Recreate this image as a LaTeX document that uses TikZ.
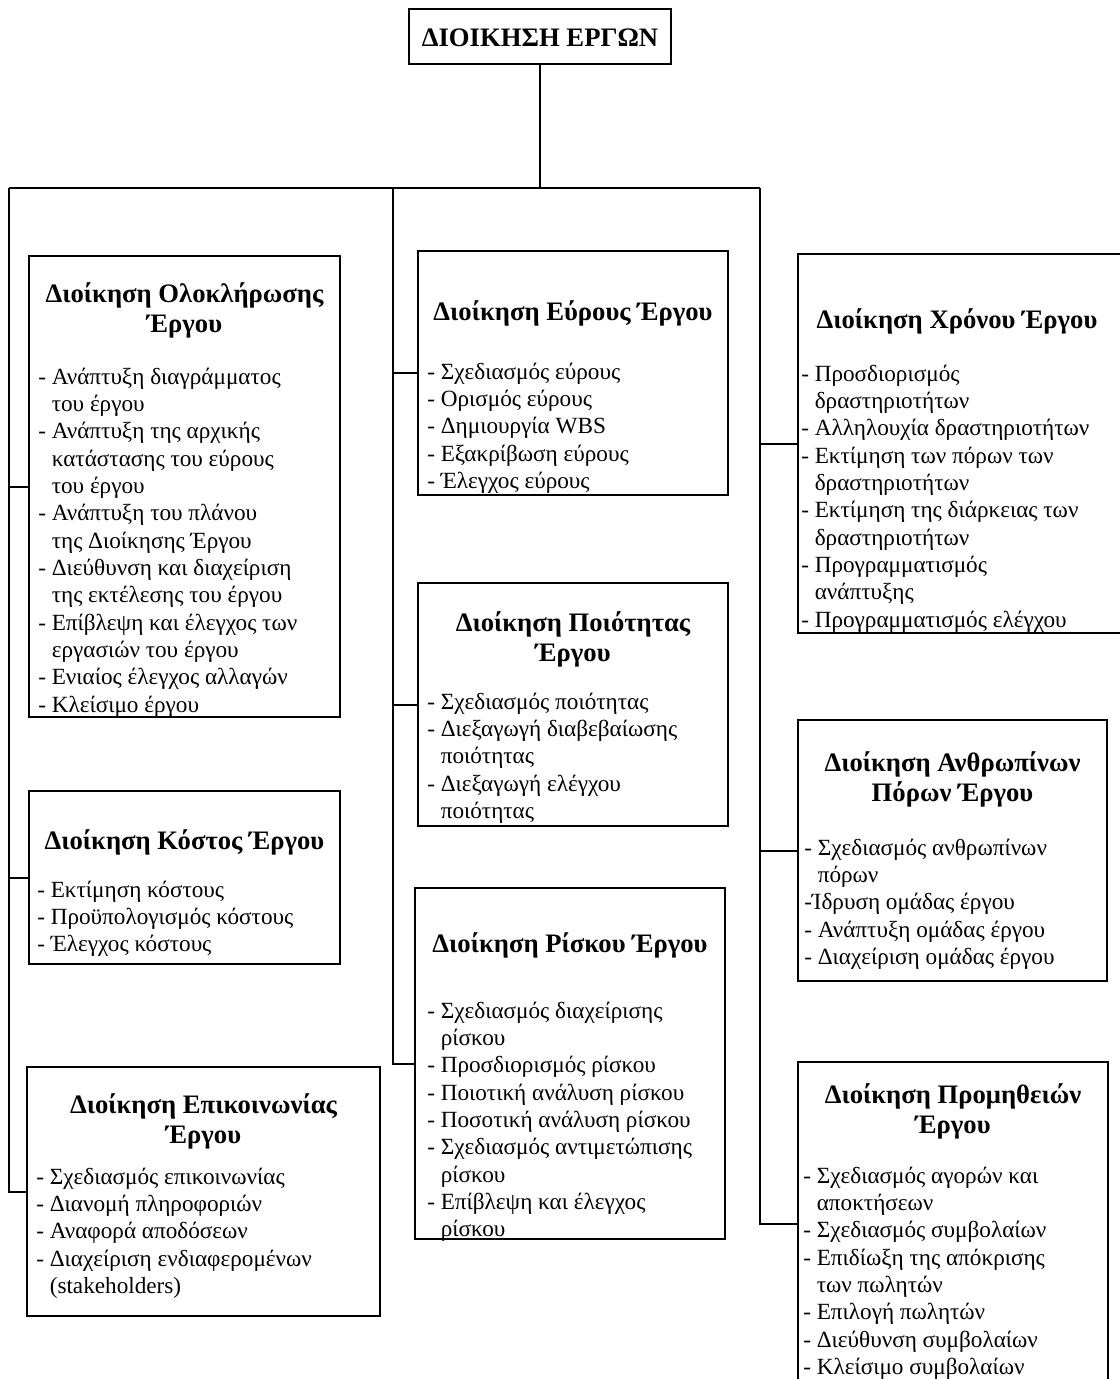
\documentclass[tikz,border=0pt]{standalone}
\usepackage{fontspec}
\setmainfont{Liberation Serif}
\usetikzlibrary{fit}
\newcommand\indln{\hphantom{-}\ }
\newcommand\lines[1]{\parbox[t]{330pt}{\raggedright #1}}
\newcommand\heads[1]{\parbox[t]{330pt}{\centering #1}}
\begin{document}
\begin{tikzpicture}[x=0.75pt,y=-0.75pt,
  panel/.style={draw, line width=1.8pt, inner sep=0pt},
  link/.style={line width=1.5pt},
  ttl/.style={anchor=base, inner sep=0pt, font=\bfseries\fontsize{20}{23}\selectfont},
  lst/.style={anchor=base west, inner sep=0pt, font=\fontsize{17.4}{20.5}\selectfont}]
\useasboundingbox (0,0) rectangle (1120,1379);
\clip (0,0) rectangle (1120,1379);

% root
\node[panel, fit={(409,9) (671,64)}] (top) {};
\node[anchor=base, inner sep=0pt, font=\bfseries\fontsize{20}{24}\selectfont] (topT) at (540,46) {ΔΙΟΙΚΗΣΗ ΕΡΓΩΝ};

% left column
\node[panel, fit={(29,256) (340,717)}] (ints) {};
\node[ttl] (intsT) at (184.5,302) {\heads{Διοίκηση Ολοκλήρωσης\\Έργου}};
\node[lst] (intsL) at (38,384) {\lines{- Ανάπτυξη διαγράμματος\\
\indln του έργου\\
- Ανάπτυξη της αρχικής\\
\indln κατάστασης του εύρους\\
\indln του έργου\\
- Ανάπτυξη του πλάνου\\
\indln της Διοίκησης Έργου\\
- Διεύθυνση και διαχείριση\\
\indln της εκτέλεσης του έργου\\
- Επίβλεψη και έλεγχος των\\
\indln εργασιών του έργου\\
- Ενιαίος έλεγχος αλλαγών\\
- Κλείσιμο έργου}};

\node[panel, fit={(29,791) (340,964)}] (cost) {};
\node[ttl] (costT) at (184.5,849) {\heads{Διοίκηση Κόστος Έργου}};
\node[lst] (costL) at (37,897) {\lines{- Εκτίμηση κόστους\\
- Προϋπολογισμός κόστους\\
- Έλεγχος κόστους}};

\node[panel, fit={(27,1067) (380,1316)}] (comm) {};
\node[ttl] (commT) at (203.5,1113) {\heads{Διοίκηση Επικοινωνίας\\Έργου}};
\node[lst] (commL) at (36,1184) {\lines{- Σχεδιασμός επικοινωνίας\\
- Διανομή πληροφοριών\\
- Αναφορά αποδόσεων\\
- Διαχείριση ενδιαφερομένων\\
\indln (stakeholders)}};

% middle column
\node[panel, fit={(418,251) (728,495)}] (scope) {};
\node[ttl] (scopeT) at (573,320) {\heads{Διοίκηση Εύρους Έργου}};
\node[lst] (scopeL) at (427,379) {\lines{- Σχεδιασμός εύρους\\
- Ορισμός εύρους\\
- Δημιουργία WBS\\
- Εξακρίβωση εύρους\\
- Έλεγχος εύρους}};

\node[panel, fit={(418,583) (728,826)}] (qual) {};
\node[ttl] (qualT) at (573,631) {\heads{Διοίκηση Ποιότητας\\Έργου}};
\node[lst] (qualL) at (427,709) {\lines{- Σχεδιασμός ποιότητας\\
- Διεξαγωγή διαβεβαίωσης\\
\indln ποιότητας\\
- Διεξαγωγή ελέγχου\\
\indln ποιότητας}};

\node[panel, fit={(415,888) (725,1239)}] (risk) {};
\node[ttl] (riskT) at (570,952) {\heads{Διοίκηση Ρίσκου Έργου}};
\node[lst] (riskL) at (427,1018) {\lines{- Σχεδιασμός διαχείρισης\\
\indln ρίσκου\\
- Προσδιορισμός ρίσκου\\
- Ποιοτική ανάλυση ρίσκου\\
- Ποσοτική ανάλυση ρίσκου\\
- Σχεδιασμός αντιμετώπισης\\
\indln ρίσκου\\
- Επίβλεψη και έλεγχος\\
\indln ρίσκου}};

% right column
\node[panel, fit={(798,254) (1124,633)}] (time) {};
\node[ttl] (timeT) at (957,328) {\heads{Διοίκηση Χρόνου Έργου}};
\node[lst] (timeL) at (801,381) {\lines{- Προσδιορισμός\\
\indln δραστηριοτήτων\\
- Αλληλουχία δραστηριοτήτων\\
- Εκτίμηση των πόρων των\\
\indln δραστηριοτήτων\\
- Εκτίμηση της διάρκειας των\\
\indln δραστηριοτήτων\\
- Προγραμματισμός\\
\indln ανάπτυξης\\
- Προγραμματισμός ελέγχου}};

\node[panel, fit={(798,720) (1107,981)}] (hr) {};
\node[ttl] (hrT) at (952.5,771) {\heads{Διοίκηση Ανθρωπίνων\\Πόρων Έργου}};
\node[lst] (hrL) at (804,855) {\lines{- Σχεδιασμός ανθρωπίνων\\
\indln πόρων\\
-Ίδρυση ομάδας έργου\\
- Ανάπτυξη ομάδας έργου\\
- Διαχείριση ομάδας έργου}};

\node[panel, fit={(798,1062) (1108,1386)}] (proc) {};
\node[ttl] (procT) at (953,1103) {\heads{Διοίκηση Προμηθειών\\Έργου}};
\node[lst] (procL) at (803,1183) {\lines{- Σχεδιασμός αγορών και\\
\indln αποκτήσεων\\
- Σχεδιασμός συμβολαίων\\
- Επιδίωξη της απόκρισης\\
\indln των πωλητών\\
- Επιλογή πωλητών\\
- Διεύθυνση συμβολαίων\\
- Κλείσιμο συμβολαίων}};

% connector bus
\coordinate (busL) at (9,188);
\coordinate (busM) at (393,188);
\coordinate (busR) at (760,188);
\draw[link] (top.south) -- (top.south |- busL);
\draw[link] (busL) -- (busR);
\draw[link] (busL) |- (comm.west);
\draw[link] (busL |- ints.west) -- (ints.west);
\draw[link] (busL |- cost.west) -- (cost.west);
\draw[link] (busM) -- (busM |- risk.west) -- (risk.west);
\draw[link] (busM |- scope.west) -- (scope.west);
\draw[link] (busM |- qual.west) -- (qual.west);
\draw[link] (busR) |- (proc.west);
\draw[link] (busR |- time.west) -- (time.west);
\draw[link] (busR |- hr.west) -- (hr.west);
\end{tikzpicture}
\end{document}
